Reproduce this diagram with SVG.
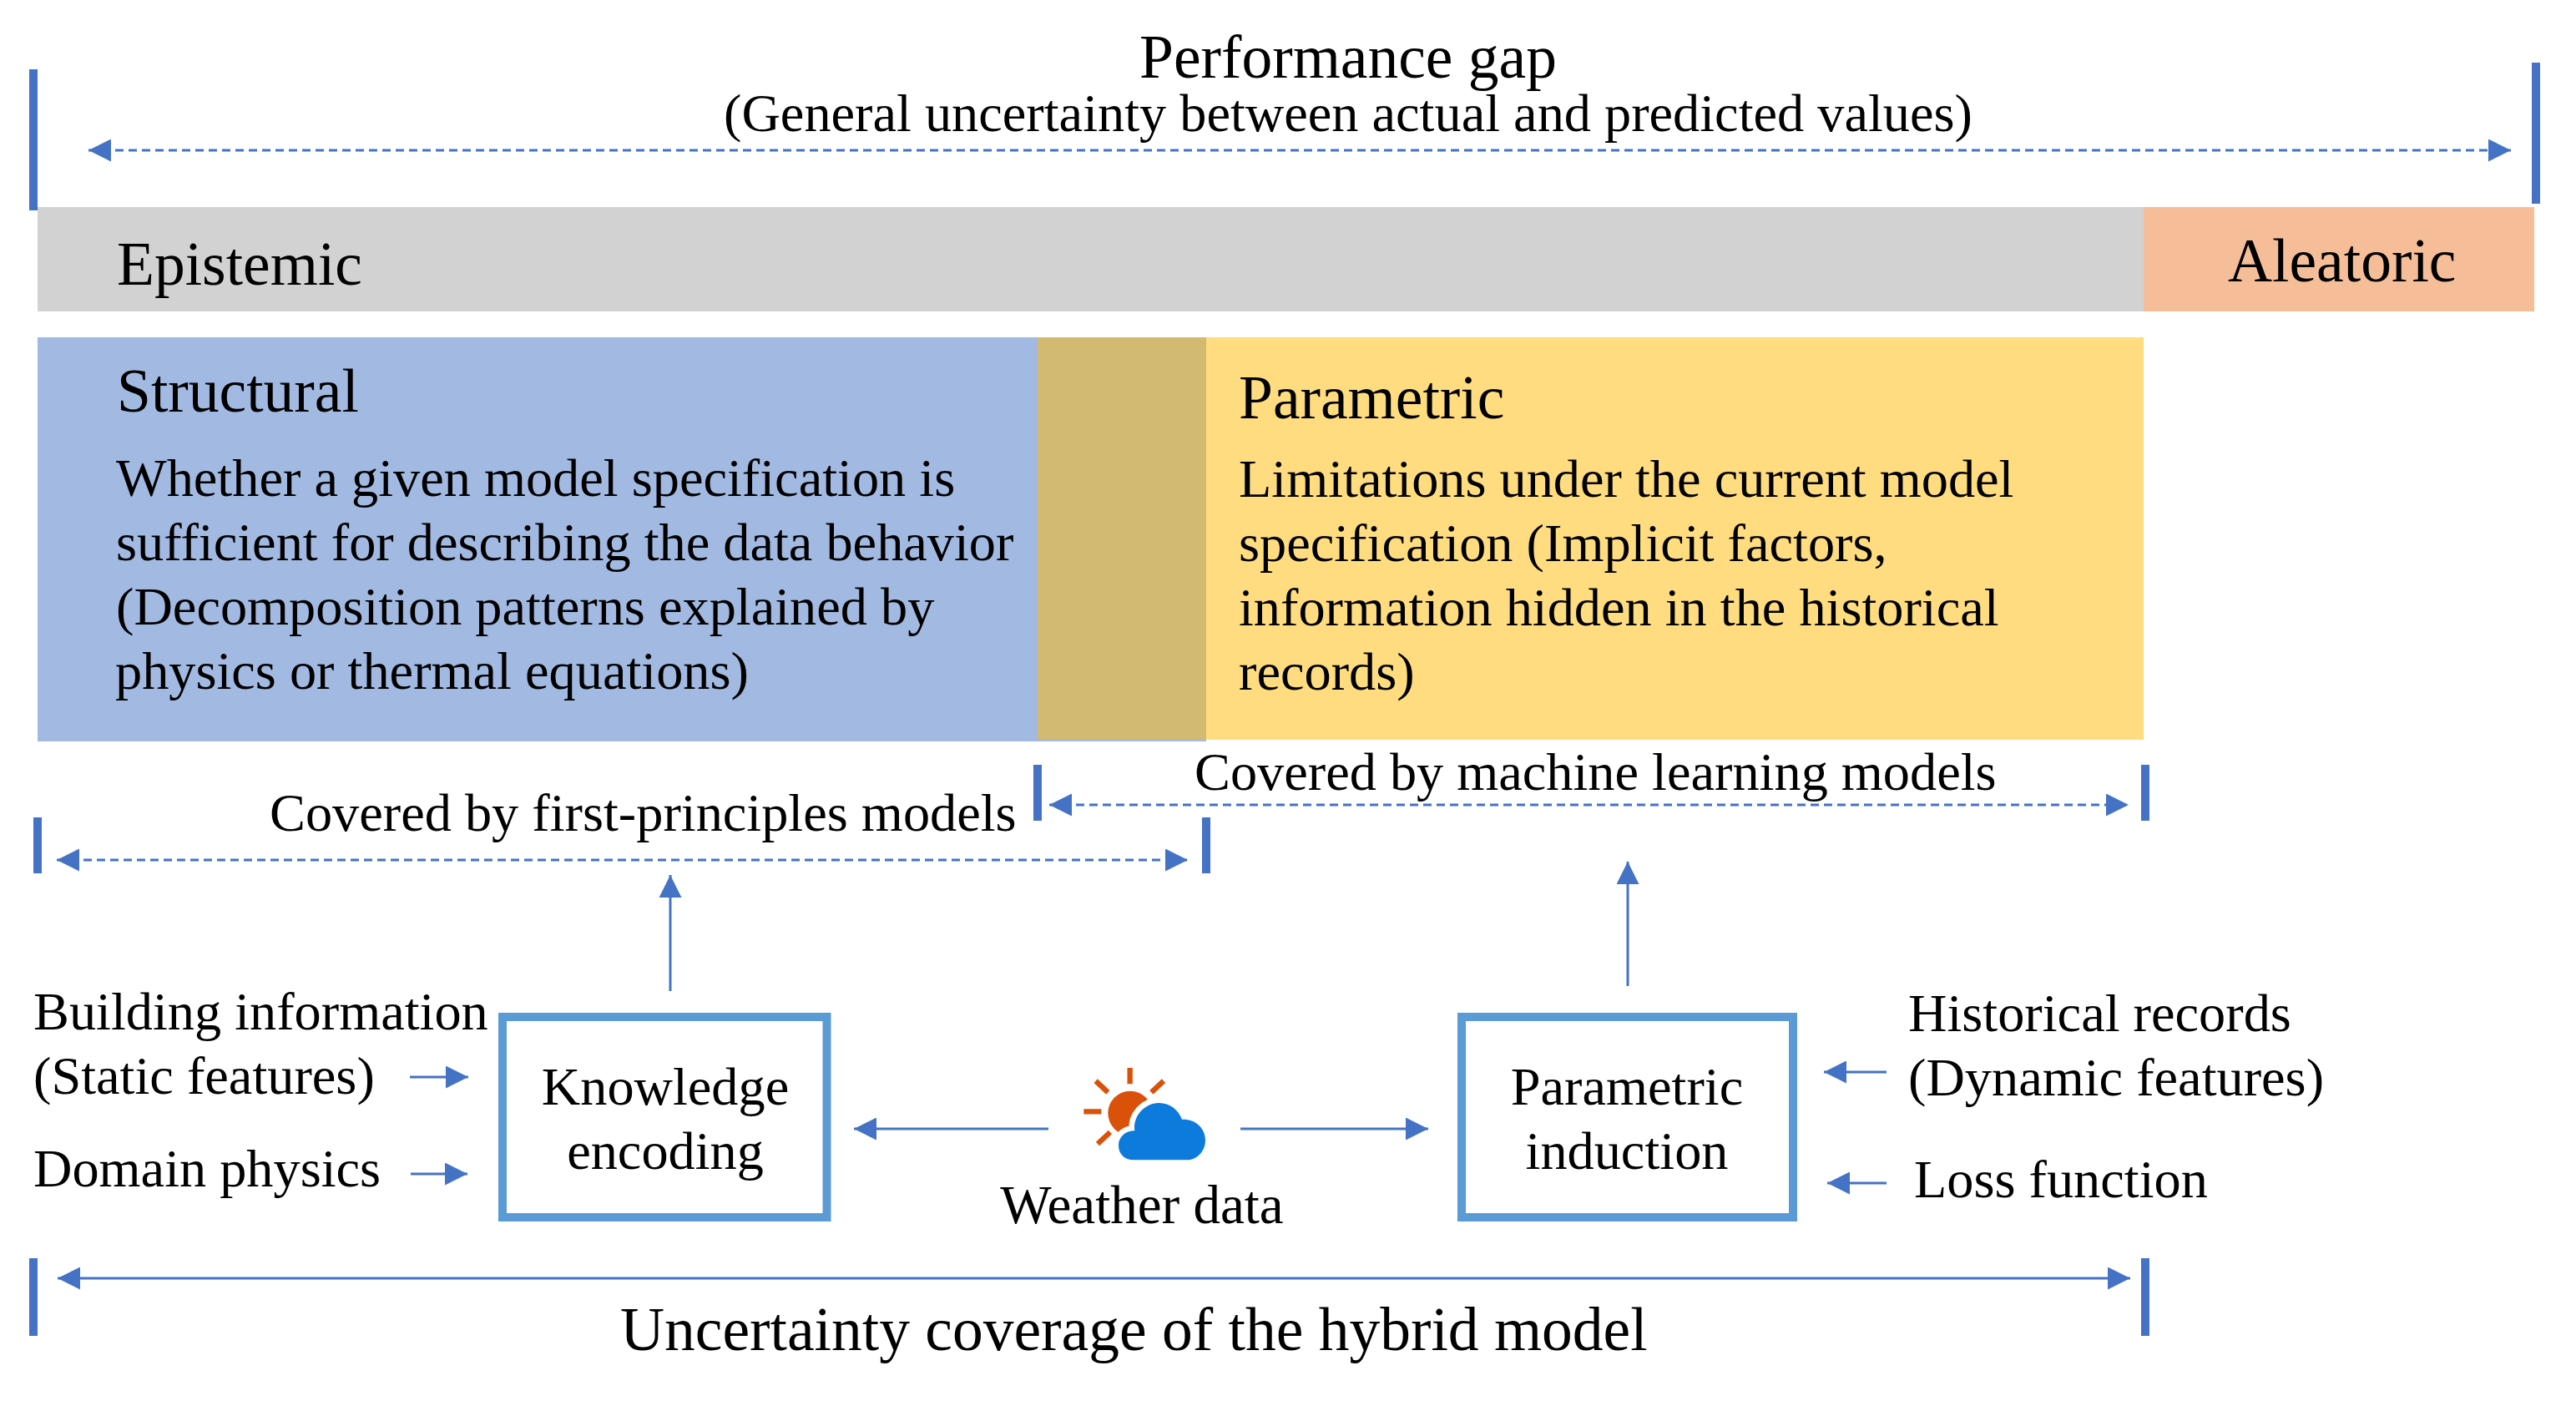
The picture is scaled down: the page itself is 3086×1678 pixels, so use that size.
<svg xmlns="http://www.w3.org/2000/svg" width="3086" height="1678" viewBox="0 0 3086 1678">
<style>
text{font-family:"Liberation Serif","Times New Roman",serif;fill:#000}
.m{font-size:64.3px}.h{font-size:73.5px}
.bar{fill:#4472c4}
.d{stroke:#4472c4;stroke-width:3;stroke-dasharray:10 6;fill:none}
.a{stroke:#4472c4;stroke-width:3;fill:none}
.box{fill:#fff;stroke:#5b9bd5;stroke-width:10}
</style>
<defs>
<marker id="h" viewBox="0 0 10 10" refX="10" refY="5" markerWidth="27" markerHeight="27" markerUnits="userSpaceOnUse" orient="auto-start-reverse" preserveAspectRatio="none"><path d="M0 0L10 5L0 10Z" fill="#4472c4"/></marker>
</defs>
<rect width="3086" height="1678" fill="#fff"/>
<g id="epistemic"><rect x="45" y="248" width="2523" height="125" fill="#d2d2d2"/><text x="140" y="341" class="h">Epistemic</text></g>
<g id="aleatoric"><rect x="2568" y="248" width="468" height="125" fill="#f6be98"/><text x="2669" y="337" class="h">Aleatoric</text></g>
<g id="structural"><rect x="45" y="404" width="1400" height="484" fill="#a2b9e1"/>
<text x="140" y="493" class="h">Structural</text>
<text x="139" y="594" class="m">Whether a given model specification is</text>
<text x="139" y="671" class="m">sufficient for describing the data behavior</text>
<text x="139" y="748" class="m">(Decomposition patterns explained by</text>
<text x="138" y="825" class="m">physics or thermal equations)</text></g>
<g id="overlap"><rect x="1243" y="404" width="202" height="482" fill="#d2bb70"/></g>
<g id="parametric"><rect x="1445" y="404" width="1123" height="482" fill="#ffdc7f"/>
<text x="1484" y="501" class="h">Parametric</text>
<text x="1484" y="595" class="m">Limitations under the current model</text>
<text x="1484" y="672" class="m">specification (Implicit factors,</text>
<text x="1484" y="749" class="m">information hidden in the historical</text>
<text x="1484" y="826" class="m">records)</text></g>
<g id="gap-label"><text x="1615" y="93" text-anchor="middle" class="h">Performance gap</text>
<text x="1615" y="157" text-anchor="middle" class="m">(General uncertainty between actual and predicted values)</text></g>
<g id="knowledge"><rect x="602" y="1218" width="388.5" height="240" class="box"/><text x="797" y="1323" text-anchor="middle" class="m">Knowledge</text><text x="797" y="1400" text-anchor="middle" class="m">encoding</text></g>
<g id="induction"><rect x="1751" y="1218" width="397" height="240" class="box"/><text x="1949" y="1323" text-anchor="middle" class="m">Parametric</text><text x="1949" y="1400" text-anchor="middle" class="m">induction</text></g>
<g id="weather"><text x="1368" y="1465" text-anchor="middle" style="font-size:65px">Weather data</text>
<g transform="translate(1200 1220) scale(.3333)">
<path d="M461 177V235M295 334H358M338 224L382 265M582 224L538 265M345 450L390 408" stroke="#da5109" stroke-width="19" fill="none"/>
<circle cx="462" cy="340" r="80" fill="#da5109"/>
<path id="cl" d="M475 508C440 508 420 485 420 455C420 425 445 403 478 403C470 350 515 303 565 303C605 303 635 328 648 362C695 360 732 392 732 437C732 478 700 508 665 508Z" fill="#0c7bdb" stroke="#fff" stroke-width="40" paint-order="stroke"/>
</g></g>
<g id="labels">
<text x="40" y="1233" class="m">Building information</text><text x="40" y="1310" class="m">(Static features)</text><text x="40" y="1421" class="m">Domain physics</text>
<text x="2286" y="1235" class="m">Historical records</text><text x="2286" y="1312" class="m">(Dynamic features)</text><text x="2293" y="1434" class="m">Loss function</text>
<text x="1431" y="946" class="m">Covered by machine learning models</text>
<text x="323" y="995" class="m">Covered by first-principles models</text>
<text x="743" y="1617" class="h">Uncertainty coverage of the hybrid model</text></g>
<g id="connectors">
<rect class="bar" x="35" y="83" width="10" height="169"/><rect class="bar" x="3033" y="75" width="10" height="169"/>
<rect class="bar" x="1238" y="916" width="10" height="67"/><rect class="bar" x="2565" y="916" width="10" height="67"/>
<rect class="bar" x="40" y="979" width="10" height="67"/><rect class="bar" x="1440" y="979" width="10" height="67"/>
<rect class="bar" x="35" y="1507" width="10" height="93"/><rect class="bar" x="2565" y="1507" width="10" height="93"/>
<path class="d" d="M106 180H3008" marker-start="url(#h)" marker-end="url(#h)"/>
<path class="d" d="M1257 964H2550" marker-start="url(#h)" marker-end="url(#h)"/>
<path class="d" d="M68 1030H1423" marker-start="url(#h)" marker-end="url(#h)"/>
<path class="a" d="M69 1531H2552" marker-start="url(#h)" marker-end="url(#h)"/>
<path class="a" d="M803 1187V1048" marker-end="url(#h)"/>
<path class="a" d="M1950 1181V1032" marker-end="url(#h)"/>
<path class="a" d="M491 1290H561" marker-end="url(#h)"/>
<path class="a" d="M492 1406H560" marker-end="url(#h)"/>
<path class="a" d="M1256 1352H1023" marker-end="url(#h)"/>
<path class="a" d="M1486 1352H1711" marker-end="url(#h)"/>
<path class="a" d="M2260 1284H2185" marker-end="url(#h)"/>
<path class="a" d="M2260 1417H2189" marker-end="url(#h)"/>
</g>
</svg>
